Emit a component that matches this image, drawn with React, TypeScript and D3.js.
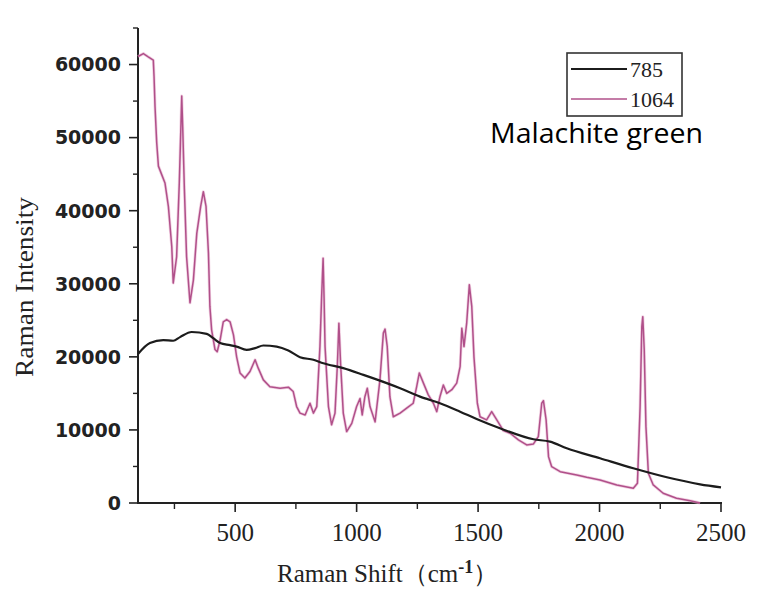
import React from "react";
import * as d3 from "d3";

const series785: [number, number][] = [
  [100, 20400], [149, 21900], [204, 22300], [245, 22200], [273, 22700], [321, 23400],
  [383, 23150], [410, 22550], [438, 21900], [479, 21600], [506, 21400], [547, 20960],
  [582, 21200], [616, 21550], [671, 21400], [719, 20860], [767, 19950], [822, 19600],
  [863, 19130], [945, 18450], [1028, 17530], [1124, 16400], [1179, 15700], [1261, 14560],
  [1343, 13650], [1426, 12500], [1494, 11500], [1590, 10230], [1728, 8720], [1796, 8400],
  [1865, 7490], [2002, 6120], [2139, 4750], [2277, 3520], [2414, 2560], [2500, 2150],
];

const series1064: [number, number][] = [
  [100, 61100], [122, 61500], [142, 61050], [163, 60600], [166, 58400], [170, 54300],
  [177, 49300], [184, 46100], [198, 44900], [211, 43800], [225, 40600], [239, 35100],
  [245, 30100], [259, 33700], [270, 43800], [277, 52000], [280, 55700], [284, 51500],
  [291, 42900], [300, 33700], [314, 27400], [328, 30500], [342, 36900], [358, 40600],
  [369, 42600], [380, 40600], [390, 34200], [396, 26900], [403, 23700], [417, 21000],
  [426, 20700], [438, 22300], [451, 24800], [465, 25100], [479, 24800], [493, 23000],
  [506, 20000], [520, 17800], [540, 17100], [561, 18000], [582, 19600], [595, 18450],
  [616, 16850], [643, 15900], [685, 15700], [719, 15850], [739, 15250], [753, 13200],
  [767, 12300], [788, 12050], [808, 13650], [822, 12300], [836, 13200], [849, 21400],
  [856, 28300], [862, 33500], [866, 28000], [870, 21400], [884, 13200], [897, 10700],
  [911, 12300], [921, 19100], [927, 24600], [934, 19100], [945, 12300], [959, 9770],
  [980, 10900], [1000, 13200], [1014, 14300], [1023, 12050], [1034, 14550], [1044, 15700],
  [1055, 13200], [1076, 11100], [1096, 16850], [1110, 23250], [1117, 23800], [1126, 21400],
  [1137, 14550], [1151, 11800], [1179, 12300], [1206, 12970], [1233, 13650], [1247, 15900],
  [1258, 17800], [1275, 16400], [1295, 14800], [1316, 13650], [1330, 12500], [1343, 14550],
  [1357, 16150], [1371, 15000], [1392, 15500], [1412, 16400], [1426, 18650], [1433, 23900],
  [1442, 21400], [1453, 24600], [1464, 29860], [1474, 26900], [1483, 20000], [1497, 13650],
  [1508, 11800], [1535, 11370], [1556, 12500], [1577, 11370], [1604, 9900], [1632, 9540],
  [1666, 8630], [1700, 7950], [1728, 8080], [1748, 9080], [1762, 13650], [1769, 14000],
  [1780, 11370], [1790, 6340], [1803, 4970], [1838, 4290], [1906, 3840], [1947, 3520],
  [2002, 3150], [2071, 2470], [2139, 2010], [2156, 2700], [2167, 13200], [2174, 24150],
  [2178, 25500], [2184, 20960], [2191, 10450], [2201, 4070], [2221, 2470], [2262, 1330],
  [2317, 640], [2373, 320], [2414, 0],
];

const xMajorTicks = [500, 1000, 1500, 2000, 2500];
const xMinorTicks = [250, 750, 1250, 1750, 2250];
const yMajorTicks = [0, 10000, 20000, 30000, 40000, 50000, 60000];
const yMinorTicks = [5000, 15000, 25000, 35000, 45000, 55000, 65000];
const legendLabels = ["785", "1064"];
const annotation = "Malachite green";
const xTitle = "Raman Shift（cm";
const yTitle = "Raman Intensity";

export default function App() {
  const W = 774, H = 602;
  const x = d3.scaleLinear().domain([100, 2500]).range([138, 721]);
  const y = d3.scaleLinear().domain([0, 65000]).range([503, 28]);
  const x0 = x(100), y0 = y(0);

  const lineBlack = d3.line<[number, number]>().x(d => x(d[0])).y(d => y(d[1])).curve(d3.curveMonotoneX);
  const linePink = d3.line<[number, number]>().x(d => x(d[0])).y(d => y(d[1]));

  const serif = "'Liberation Serif', 'Times New Roman', serif";
  const axisColor = "#222";

  return (
    <svg width={W} height={H} style={{ position: "absolute", left: 0, top: 0, background: "#fff" }}>
      <rect x={0} y={0} width={W} height={H} fill="#fff" />
      {/* axes */}
      <line x1={x0} y1={y(65000)} x2={x0} y2={y0 + 0.5} stroke={axisColor} strokeWidth={2} />
      <line x1={x0 - 1} y1={y0} x2={x(2500) + 1} y2={y0} stroke={axisColor} strokeWidth={2} />
      {yMajorTicks.map(t => (
        <g key={"ym" + t}>
          <line x1={x0 - 9} x2={x0} y1={y(t)} y2={y(t)} stroke={axisColor} strokeWidth={1.6} />
          <text x={121} y={y(t)} dy="0.36em" textAnchor="end" fontFamily="'DejaVu Sans', sans-serif" fontWeight="bold" fontSize={19} fill="#222">{t}</text>
        </g>
      ))}
      {yMinorTicks.map(t => (
        <line key={"yn" + t} x1={x0 - 5} x2={x0} y1={y(t)} y2={y(t)} stroke={axisColor} strokeWidth={1.4} />
      ))}
      {xMajorTicks.map(t => (
        <g key={"xm" + t}>
          <line x1={x(t)} x2={x(t)} y1={y0} y2={y0 + 9} stroke={axisColor} strokeWidth={1.6} />
          <text x={x(t)} y={541} textAnchor="middle" fontFamily={serif} fontSize={25} fill="#222">{t}</text>
        </g>
      ))}
      {xMinorTicks.map(t => (
        <line key={"xn" + t} x1={x(t)} x2={x(t)} y1={y0} y2={y0 + 6} stroke={axisColor} strokeWidth={1.4} />
      ))}
      {/* titles */}
      <text x={277} y={582} fontFamily={serif} fontSize={25} fill="#222">
        {xTitle}
        <tspan dy={-9} fontSize={18} fontWeight="bold">-1</tspan>
        <tspan dy={9}>）</tspan>
      </text>
      <text transform="translate(33,287) rotate(-90)" textAnchor="middle" fontFamily={serif} fontSize={25} fill="#222" textLength={180} lengthAdjust="spacingAndGlyphs">{yTitle}</text>
      {/* series */}
      <path d={linePink(series1064) || ""} fill="none" stroke="#e7b3cf" strokeWidth={3} strokeLinejoin="round" opacity={0.6} />
      <path d={linePink(series1064) || ""} fill="none" stroke="#b0508a" strokeWidth={1.5} strokeLinejoin="round" />
      <path d={lineBlack(series785) || ""} fill="none" stroke="#1c1c1c" strokeWidth={2.2} strokeLinejoin="round" />
      {/* legend */}
      <rect x={567} y={53} width={115} height={63} fill="#fff" stroke="#333" strokeWidth={1.6} />
      <line x1={571} x2={627} y1={69} y2={69} stroke="#1c1c1c" strokeWidth={2} />
      <line x1={571} x2={627} y1={99} y2={99} stroke="#b0508a" strokeWidth={1.3} />
      <text x={630} y={77} fontFamily={serif} fontSize={22} fill="#222">{legendLabels[0]}</text>
      <text x={630} y={107} fontFamily={serif} fontSize={22} fill="#222">{legendLabels[1]}</text>
      <text x={490} y={143} fontFamily="'Open Sans', 'Noto Sans', sans-serif" fontSize={27} fill="#000" textLength={213} lengthAdjust="spacingAndGlyphs">{annotation}</text>
    </svg>
  );
}
